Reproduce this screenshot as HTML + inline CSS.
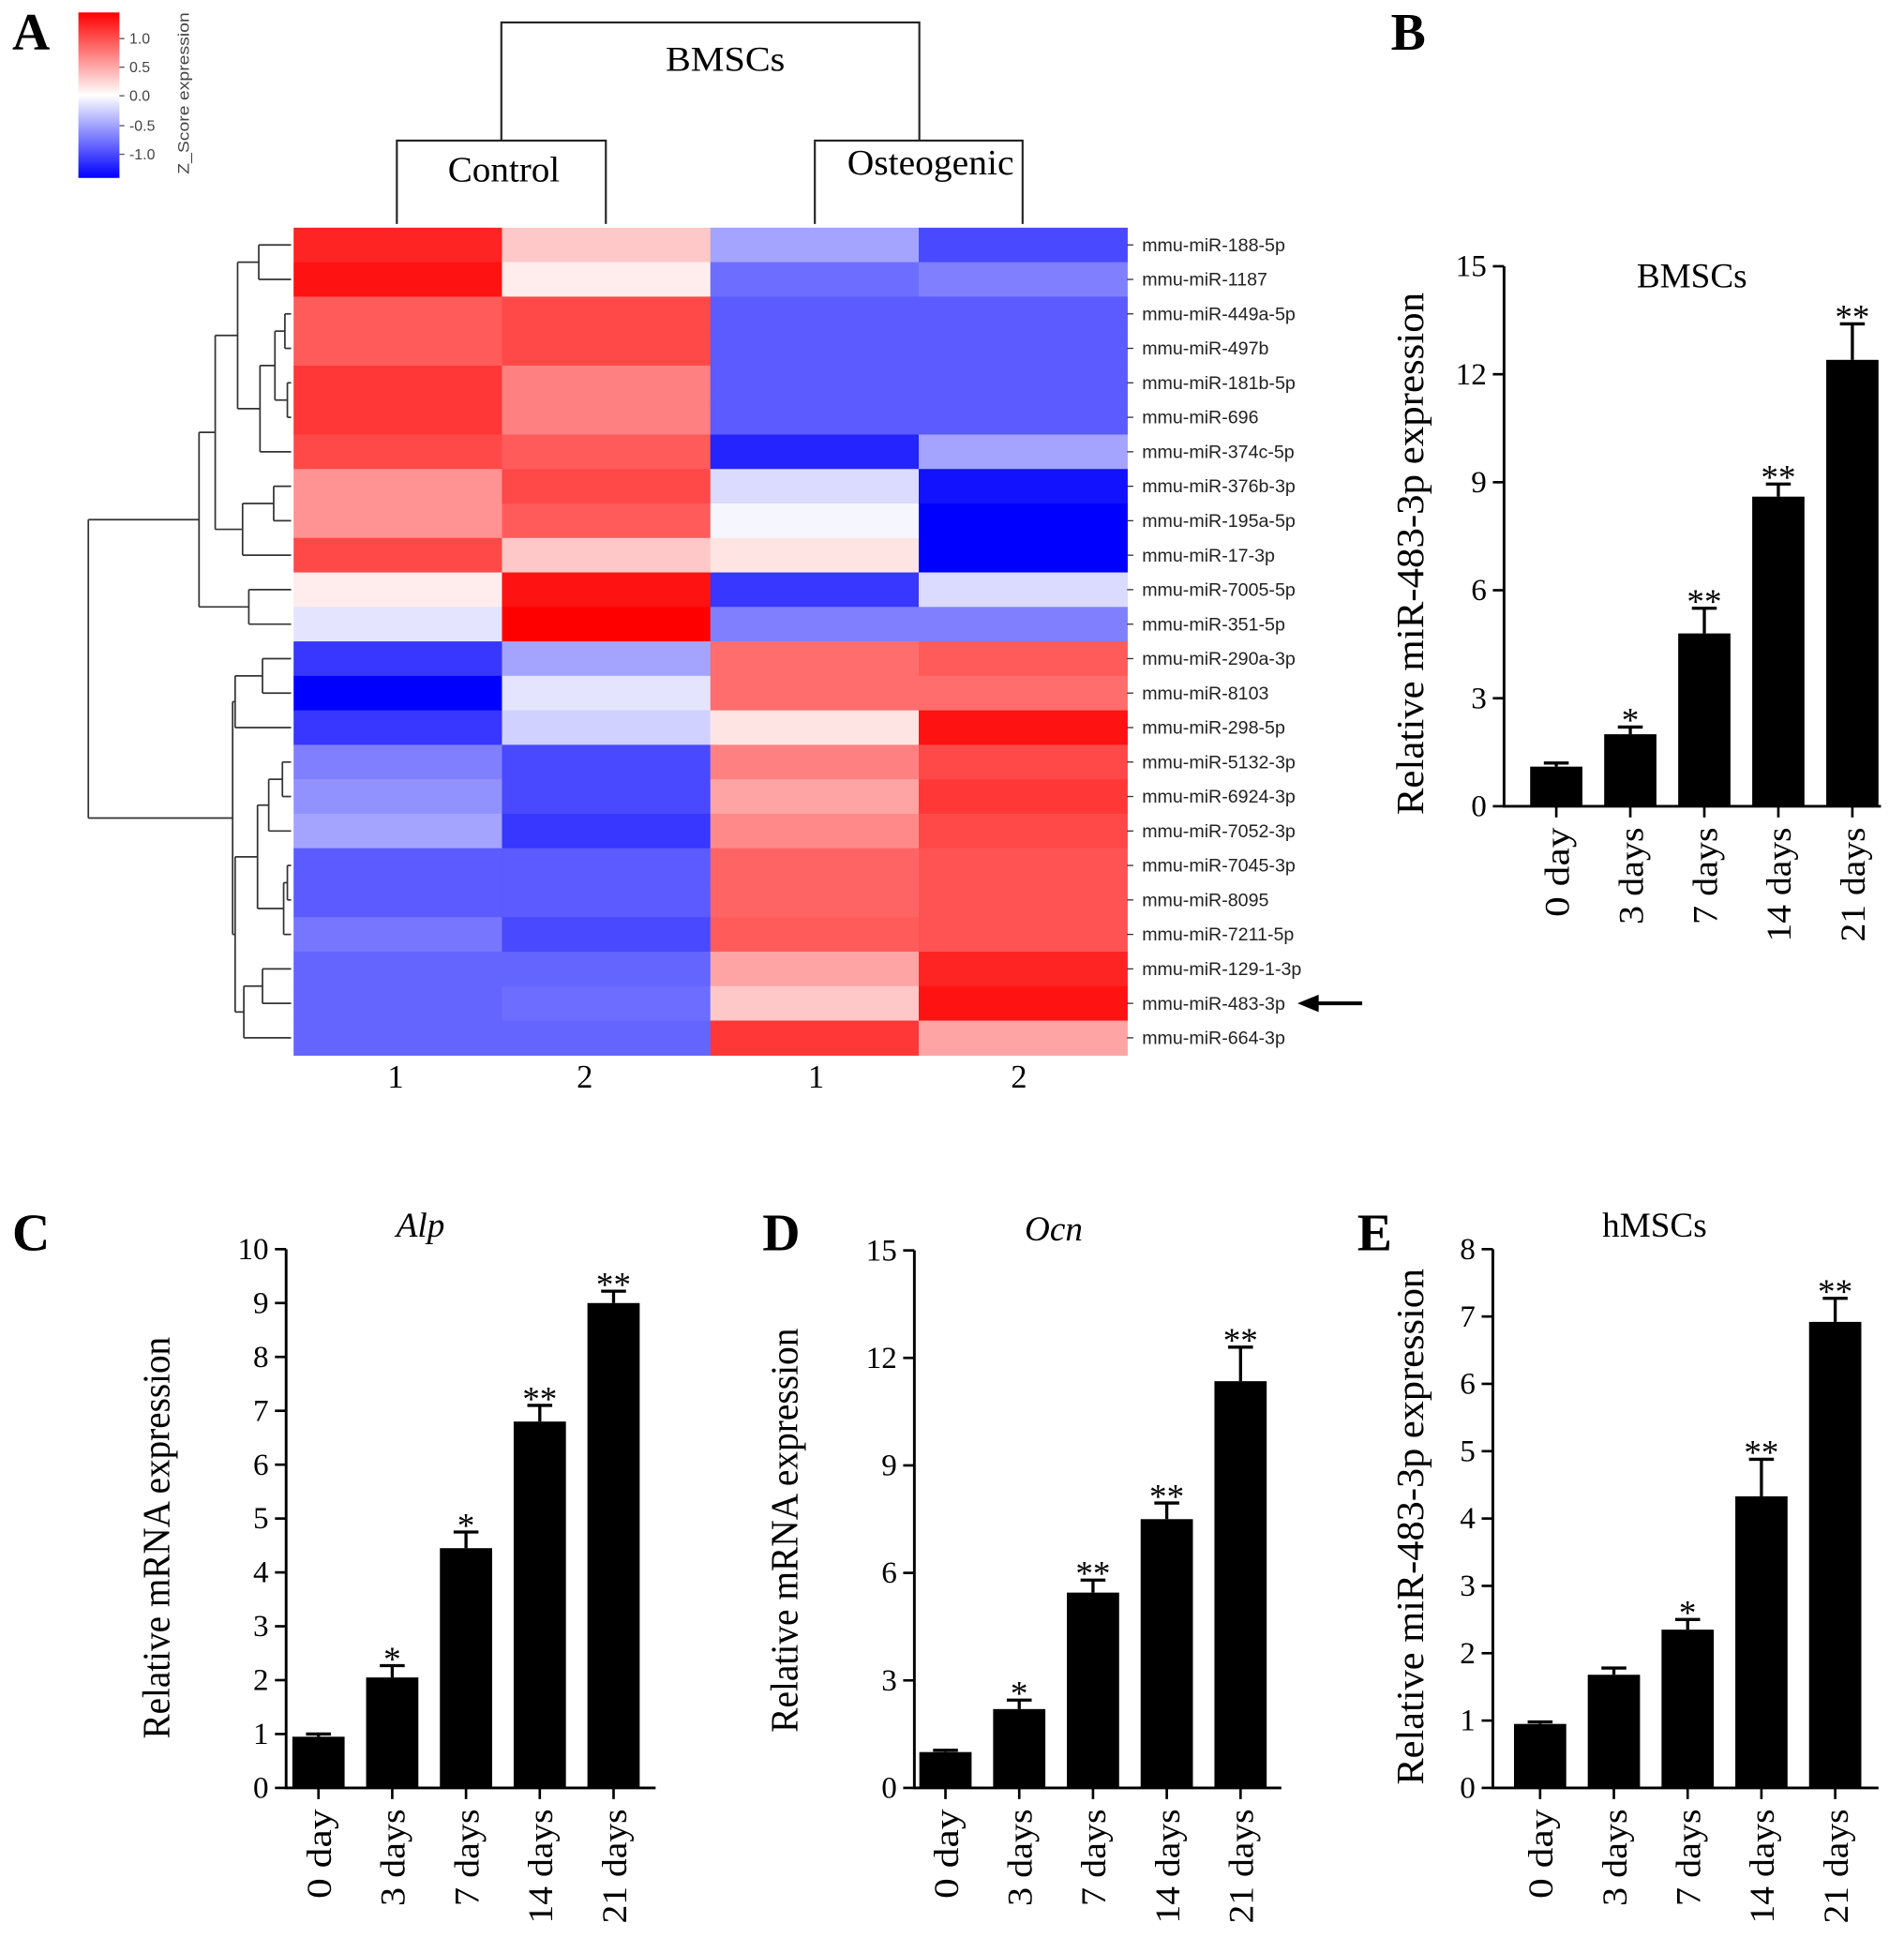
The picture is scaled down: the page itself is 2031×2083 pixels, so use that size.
<!DOCTYPE html>
<html><head><meta charset="utf-8"><style>
html,body{margin:0;padding:0;background:#fff}
svg{display:block}
text{font-family:"Liberation Serif",serif}
.sans{font-family:"Liberation Sans",sans-serif}
</style></head><body>
<svg id="fig" width="2031" height="2083" viewBox="0 0 1530.5 1569.7" xmlns="http://www.w3.org/2000/svg">
<rect width="1530.5" height="1569.7" fill="#fff"/>
<g id="heat"></g>
<g id="bars"></g>
</svg>
<script>
const NS="http://www.w3.org/2000/svg";
const rowLabels=["mmu-miR-188-5p","mmu-miR-1187","mmu-miR-449a-5p","mmu-miR-497b","mmu-miR-181b-5p","mmu-miR-696","mmu-miR-374c-5p","mmu-miR-376b-3p","mmu-miR-195a-5p","mmu-miR-17-3p","mmu-miR-7005-5p","mmu-miR-351-5p","mmu-miR-290a-3p","mmu-miR-8103","mmu-miR-298-5p","mmu-miR-5132-3p","mmu-miR-6924-3p","mmu-miR-7052-3p","mmu-miR-7045-3p","mmu-miR-8095","mmu-miR-7211-5p","mmu-miR-129-1-3p","mmu-miR-483-3p","mmu-miR-664-3p"];
const colLabels=["1","2","1","2"];
const zControl1=[1.2,1.3,0.9,0.9,1.1,1.1,1.0,0.6,0.6,1.0,0.1,-0.15,-1.1,-1.4,-1.1,-0.7,-0.6,-0.5,-0.9,-0.9,-0.75,-0.85,-0.85,-0.85];
const zControl2=[0.3,0.1,1.0,1.0,0.7,0.7,0.9,1.0,0.9,0.3,1.3,1.4,-0.5,-0.15,-0.25,-1.0,-1.0,-1.1,-0.9,-0.9,-1.0,-0.85,-0.8,-0.85];
const zOsteo1=[-0.5,-0.8,-0.9,-0.9,-0.9,-0.9,-1.2,-0.2,-0.05,0.15,-1.1,-0.7,0.8,0.8,0.15,0.7,0.5,0.65,0.85,0.85,0.9,0.5,0.3,1.1];
const zOsteo2=[-1.0,-0.7,-0.9,-0.9,-0.9,-0.9,-0.5,-1.3,-1.4,-1.4,-0.2,-0.7,0.9,0.8,1.3,1.0,1.1,1.0,0.95,0.95,0.95,1.2,1.3,0.5];

const barCats=["0 day","3 days","7 days","14 days","21 days"];
const bValues=[1.1,2.0,4.8,8.6,12.4];
const bErrors=[0.1,0.2,0.7,0.35,1.0];
const bStars=["","*","**","**","**"];
const cValues=[0.95,2.05,4.45,6.8,9.0];
const cErrors=[0.05,0.22,0.3,0.3,0.22];
const cStars=["","*","*","**","**"];
const dValues=[1.0,2.2,5.45,7.5,11.35];
const dErrors=[0.05,0.25,0.35,0.45,0.95];
const dStars=["","*","**","**","**"];
const eValues=[0.95,1.68,2.35,4.33,6.92];
const eErrors=[0.03,0.1,0.15,0.55,0.35];
const eStars=["","","*","**","**"];
const bTicks=[0,3,6,9,12,15];
const cTicks=[0,1,2,3,4,5,6,7,8,9,10];
const dTicks=[0,3,6,9,12,15];
const eTicks=[0,1,2,3,4,5,6,7,8];

function el(tag,attrs,parent,txt){const e=document.createElementNS(NS,tag);for(const k in attrs)e.setAttribute(k,attrs[k]);if(txt!==undefined)e.textContent=txt;parent.appendChild(e);return e;}
const H=document.getElementById('heat');
const B=document.getElementById('bars');

const hx0=236,hx1=906,hy0=183,hy1=848;
const cw=(hx1-hx0)/4,rh=(hy1-hy0)/rowLabels.length;
function zColor(z){const t=Math.min(Math.abs(z)/1.4,1);const v=Math.round(255*(1-t));return z>=0?`rgb(255,${v},${v})`:`rgb(${v},${v},255)`;}
const cols=[zControl1,zControl2,zOsteo1,zOsteo2];
cols.forEach((arr,ci)=>{arr.forEach((z,ri)=>{
 const r=el('rect',{x:hx0+ci*cw,y:hy0+ri*rh,width:cw+0.5,height:rh+0.5,fill:zColor(z)},H);
 
 
});});
rowLabels.forEach((l,i)=>{
 const yc=hy0+(i+0.5)*rh;
 el('line',{x1:hx1,y1:yc,x2:hx1+5,y2:yc,stroke:'#333','stroke-width':1},H);
 const t=el('text',{x:918,y:yc+5,'font-size':14.8,class:'sans',fill:'#222'},H,l);
 
 
});
const colLabelX=[318,470,656,819];
colLabels.forEach((l,i)=>{
 const t=el('text',{x:colLabelX[i],y:874,'font-size':26,'text-anchor':'middle'},H,l);
 
 
});
const ar=el('g',{},H);


const ay=hy0+22.5*rh;
el('line',{x1:1095,y1:ay,x2:1055,y2:ay,stroke:'#000','stroke-width':3},ar);
el('polygon',{points:`1043,${ay} 1060,${ay-7} 1060,${ay+7}`,fill:'#000'},ar);

const tree={x:71,c:[
 {x:160,c:[
  {x:173,c:[
   {x:191,c:[{x:208,c:[0,1]},{x:209,c:[{x:221,c:[{x:229,c:[2,3]},{x:231,c:[4,5]}]},6]}]},
   {x:195,c:[{x:220,c:[7,8]},9]}]},
  {x:200,c:[10,11]}]},
 {x:187,c:[
  {x:189,c:[{x:211,c:[12,13]},14]},
  {x:189,c:[
   {x:207,c:[{x:216,c:[{x:227,c:[15,16]},17]},{x:228,c:[{x:231,c:[18,19]},20]}]},
   {x:196,c:[{x:211,c:[21,22]},23]}]}]}]};
const leafX=234;
const dg=el('g',{stroke:'#333','stroke-width':1.3,fill:'none'},H);


function drawNode(n){
 if(typeof n==='number')return {y:hy0+(n+0.5)*rh,x:leafX};
 const ch=n.c.map(drawNode);
 ch.forEach(c=>el('line',{x1:n.x,y1:c.y,x2:c.x,y2:c.y},dg));
 const ys=ch.map(c=>c.y);
 el('line',{x1:n.x,y1:Math.min(...ys),x2:n.x,y2:Math.max(...ys)},dg);
 return {y:(Math.min(...ys)+Math.max(...ys))/2,x:n.x};
}
drawNode(tree);
const cg=el('g',{stroke:'#222','stroke-width':1.6,fill:'none'},H);


el('path',{d:'M319,180V113H487V180 M655,180V113H822V180 M403,113V18H739V113'},cg);
[['BMSCs',583,57,28,'group-title',96],['Control',405,146,29,'control-label',90],['Osteogenic',748,140,29,'osteogenic-label',134]].forEach(a=>{
 const t=el('text',{x:a[1],y:a[2],'font-size':a[3],'text-anchor':'middle',textLength:a[5],lengthAdjust:'spacingAndGlyphs'},H,a[0]);
 
 
});
const defs=el('defs',{},H);
const lg=el('linearGradient',{id:'cb',x1:0,y1:0,x2:0,y2:1},defs);
el('stop',{offset:'0','stop-color':'#ff0000'},lg);
el('stop',{offset:'0.5','stop-color':'#ffffff'},lg);
el('stop',{offset:'1','stop-color':'#0000ff'},lg);
const cbg=el('g',{},H);


el('rect',{x:63,y:10,width:33,height:133,fill:'url(#cb)'},cbg);
[['1.0',31],['0.5',54],['0.0',77],['-0.5',101],['-1.0',124]].forEach(a=>{
 el('line',{x1:96,y1:a[1],x2:100,y2:a[1],stroke:'#555'},cbg);
 el('text',{x:104,y:a[1]+4,'font-size':12,class:'sans',fill:'#444'},cbg,a[0]);
});
el('text',{x:0,y:0,'font-size':12.5,class:'sans',fill:'#444','text-anchor':'middle',textLength:130,lengthAdjust:'spacingAndGlyphs',transform:'translate(152,75) rotate(-90)'},cbg,'Z_Score expression');

[['A',25,40],['B',1132,40],['C',25,1005],['D',628,1005],['E',1105,1005]].forEach(a=>{
 const t=el('text',{x:a[1],y:a[2],'font-size':42,'font-weight':'bold','text-anchor':'middle'},B,a[0]);
 
 
});

function barChart(o){
 const g=el('g',{},B);
 
 
 const ys=v=>o.y0-(v/o.max)*(o.y0-o.ytop);
 const xs=i=>o.x0+o.first+i*o.step;
 el('line',{x1:o.ax,y1:o.ytop,x2:o.ax,y2:o.y0+1,stroke:'#000','stroke-width':2.2},g);
 el('line',{x1:o.ax,y1:o.y0,x2:o.xend,y2:o.y0,stroke:'#000','stroke-width':2.2},g);
 o.ticks.forEach(t=>{
  el('line',{x1:o.ax-9,y1:ys(t),x2:o.ax,y2:ys(t),stroke:'#000','stroke-width':2},g);
  const tl=el('text',{x:o.ax-14,y:ys(t)+8,'font-size':25,'text-anchor':'end'},g,String(t));
  
  
 });
 const xlLen=[72,78,78,92,92];
 o.vals.forEach((v,i)=>{
  const cx=xs(i);
  const r=el('rect',{x:cx-21,y:ys(v),width:42,height:o.y0-ys(v),fill:'#000'},g);
  
  
  const top=ys(v+o.errs[i]);
  el('line',{x1:cx,y1:ys(v),x2:cx,y2:top,stroke:'#000','stroke-width':2.5},g);
  el('line',{x1:cx-10,y1:top,x2:cx+10,y2:top,stroke:'#000','stroke-width':2.5},g);
  if(o.stars[i]){const s=el('text',{x:cx,y:top+4,'font-size':28,'text-anchor':'middle'},g,o.stars[i]);
   
   }
  el('line',{x1:cx,y1:o.y0,x2:cx,y2:o.y0+9,stroke:'#000','stroke-width':2},g);
  const xl=el('text',{x:0,y:0,'font-size':28,'text-anchor':'end',textLength:xlLen[i],lengthAdjust:'spacingAndGlyphs',transform:`translate(${cx+10},${o.y0+17}) rotate(-90)`},g,barCats[i]);
  
  
 });
 const yl=el('text',{x:0,y:0,'font-size':31,'text-anchor':'middle',textLength:o.ylen,lengthAdjust:'spacingAndGlyphs',transform:`translate(${o.ylx},${o.yly}) rotate(-90)`},g,o.ylabel);
 
 
 const tt=el('text',{x:o.tx,y:o.ty,'font-size':28,'text-anchor':'middle','font-style':o.italic?'italic':'normal'},g,o.title);
 
 
}
barChart({name:'chart-b-bmscs',ax:1209,x0:1209,first:42,step:59.5,xend:1512,y0:648,ytop:214,max:15,ticks:bTicks,vals:bValues,errs:bErrors,stars:bStars,ylx:1144,yly:445,ylen:420,ylabel:'Relative miR-483-3p expression',title:'BMSCs',tx:1360,ty:231});
barChart({name:'chart-c-alp',ax:230,x0:230,first:26,step:59.3,xend:527,y0:1437,ytop:1004,max:10,ticks:cTicks,vals:cValues,errs:cErrors,stars:cStars,ylx:136,yly:1236,ylen:323,ylabel:'Relative mRNA expression',title:'Alp',italic:true,tx:338,ty:994});
barChart({name:'chart-d-ocn',ax:735,x0:735,first:25,step:59.3,xend:1030,y0:1437,ytop:1005,max:15,ticks:dTicks,vals:dValues,errs:dErrors,stars:dStars,ylx:641,yly:1230,ylen:325,ylabel:'Relative mRNA expression',title:'Ocn',italic:true,tx:847,ty:997});
barChart({name:'chart-e-hmscs',ax:1200,x0:1200,first:38,step:59.3,xend:1510,y0:1437,ytop:1004,max:8,ticks:eTicks,vals:eValues,errs:eErrors,stars:eStars,ylx:1144,yly:1227,ylen:415,ylabel:'Relative miR-483-3p expression',title:'hMSCs',tx:1330,ty:994});
</script>
</body></html>
